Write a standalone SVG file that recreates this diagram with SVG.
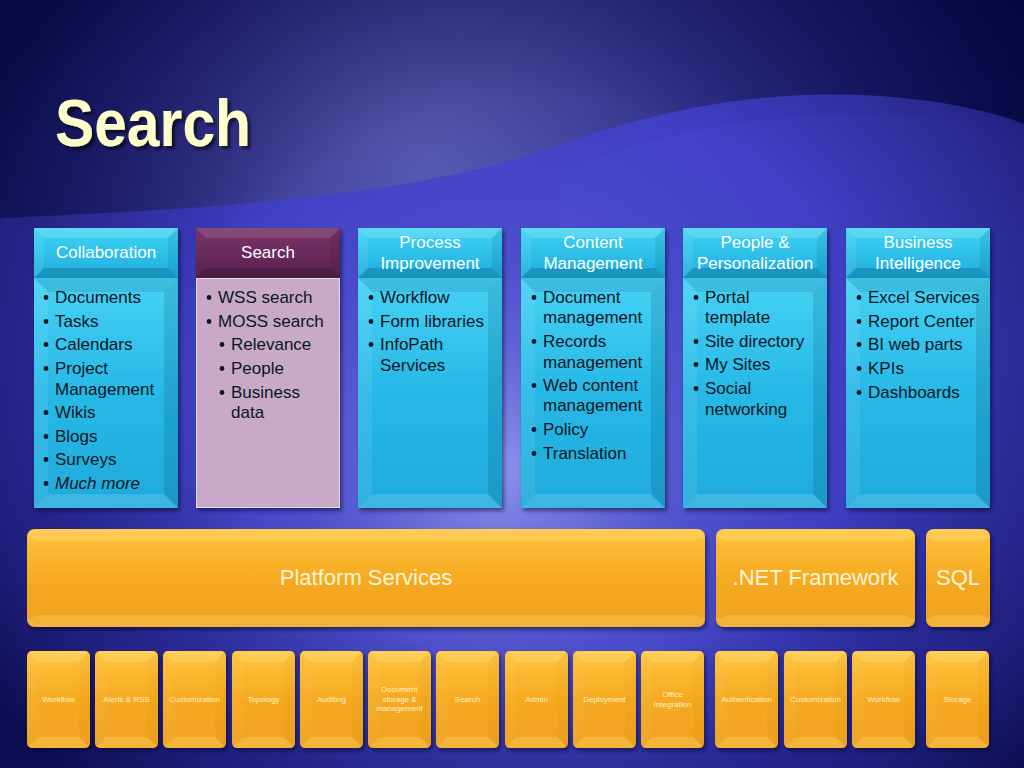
<svg xmlns="http://www.w3.org/2000/svg" xmlns:xlink="http://www.w3.org/1999/xlink" width="1024" height="768" viewBox="0 0 1024 768">
<defs>
<style>
.t{font-family:"Liberation Sans",Arial,sans-serif;}
.hd{font-family:"Liberation Sans",Arial,sans-serif;font-size:17px;fill:#ffffff;text-anchor:middle;}
.bd{font-family:"Liberation Sans",Arial,sans-serif;font-size:17px;fill:#0b1622;}
.bar{font-family:"Liberation Sans",Arial,sans-serif;font-size:22px;fill:#fff6d8;text-anchor:middle;}
.tl{font-family:"Liberation Sans",Arial,sans-serif;font-size:8px;fill:#fff3c8;text-anchor:middle;}
.bul{fill:#0b1622;}
</style>
<radialGradient id="bgTop" gradientUnits="userSpaceOnUse" cx="430" cy="170" r="640">
<stop offset="0" stop-color="#5558a8"/>
<stop offset="0.45" stop-color="#2d2d86"/>
<stop offset="1" stop-color="#08084c"/>
</radialGradient>
<linearGradient id="wave" x1="0" y1="0" x2="0" y2="1">
<stop offset="0" stop-color="#4040c6"/>
<stop offset="1" stop-color="#3434b6"/>
</linearGradient>
<radialGradient id="glow" gradientUnits="userSpaceOnUse" cx="500" cy="470" r="400">
<stop offset="0" stop-color="#9aa2f4" stop-opacity="0.85"/>
<stop offset="0.5" stop-color="#6a70e0" stop-opacity="0.4"/>
<stop offset="1" stop-color="#5055d0" stop-opacity="0"/>
</radialGradient>
<radialGradient id="vig" gradientUnits="userSpaceOnUse" cx="540" cy="380" r="660" gradientTransform="translate(540 380) scale(1 0.85) translate(-540 -380)">
<stop offset="0.5" stop-color="#06063e" stop-opacity="0"/>
<stop offset="0.85" stop-color="#06063e" stop-opacity="0.5"/>
<stop offset="1" stop-color="#04043a" stop-opacity="0.8"/>
</radialGradient>
<linearGradient id="gCyanHead" x1="0" y1="0" x2="0" y2="1">
<stop offset="0" stop-color="#3ed5f5"/>
<stop offset="1" stop-color="#20acdc"/>
</linearGradient>
<linearGradient id="gCyanBody" x1="0" y1="0" x2="0" y2="1">
<stop offset="0" stop-color="#46d2f5"/>
<stop offset="0.5" stop-color="#27b8e6"/>
<stop offset="1" stop-color="#1eaadc"/>
</linearGradient>
<linearGradient id="gPurpHead" x1="0" y1="0" x2="0" y2="1">
<stop offset="0" stop-color="#7a3568"/>
<stop offset="1" stop-color="#5a2150"/>
</linearGradient>
<linearGradient id="gOr" x1="0" y1="0" x2="0" y2="1">
<stop offset="0" stop-color="#ffc440"/>
<stop offset="0.5" stop-color="#f6aa20"/>
<stop offset="1" stop-color="#eea222"/>
</linearGradient>
<filter id="sh" x="-10%" y="-10%" width="125%" height="125%">
<feDropShadow dx="2" dy="3" stdDeviation="2" flood-color="#000022" flood-opacity="0.5"/>
</filter>
<filter id="tsh" x="-10%" y="-10%" width="130%" height="130%">
<feDropShadow dx="3" dy="3" stdDeviation="1.5" flood-color="#000000" flood-opacity="0.6"/>
</filter>
<clipPath id="tileClip"><rect x="0" y="0" width="63" height="97" rx="5"/></clipPath>
<g id="cyanHead">
<rect x="0" y="0" width="144" height="50" fill="url(#gCyanHead)"/>
<polygon points="0,0 144,0 134,10 10,10" fill="#ffffff" fill-opacity="0.16"/>
<polygon points="0,0 10,10 10,40 0,50" fill="#ffffff" fill-opacity="0.08"/>
<polygon points="144,0 144,50 134,40 134,10" fill="#003050" fill-opacity="0.1"/>
<polygon points="0,50 144,50 134,40 10,40" fill="#003050" fill-opacity="0.22"/>
</g>
<g id="cyanBody">
<rect x="0" y="0" width="144" height="230" fill="url(#gCyanBody)"/>
<polygon points="0,0 144,0 130,14 14,14" fill="#003050" fill-opacity="0.12"/>
<polygon points="0,0 14,14 14,216 0,230" fill="#ffffff" fill-opacity="0.08"/>
<polygon points="144,0 144,230 130,216 130,14" fill="#003050" fill-opacity="0.14"/>
<polygon points="0,230 144,230 130,216 14,216" fill="#ffffff" fill-opacity="0.14"/>
</g>
<g id="tile">
<g clip-path="url(#tileClip)">
<rect x="0" y="0" width="63" height="97" fill="url(#gOr)"/>
<polygon points="0,0 63,0 52,11 11,11" fill="#fff3a0" fill-opacity="0.25"/>
<polygon points="0,0 11,11 11,86 0,97" fill="#ffffff" fill-opacity="0.04"/>
<polygon points="63,0 63,97 52,86 52,11" fill="#803000" fill-opacity="0.03"/>
<polygon points="0,97 63,97 52,86 11,86" fill="#ffe070" fill-opacity="0.3"/>
</g>
</g>
</defs>

<g id="background">
<rect x="0" y="0" width="1024" height="768" fill="url(#bgTop)"/>
<path d="M0,218 C230,208 420,195 560,145 C680,102 780,90 880,96 C950,101 1000,114 1024,124 L1024,768 L0,768 Z" fill="url(#wave)"/>
<path d="M560,172 C680,124 800,110 900,115 C960,119 1000,132 1024,142 L1024,768 L560,768 Z" fill="#6a70ff" fill-opacity="0.06"/>
<rect x="0" y="0" width="1024" height="768" fill="url(#glow)"/>
<rect x="0" y="0" width="1024" height="768" fill="url(#vig)"/>
</g>

<g id="title">
<text x="55" y="146" class="t" font-size="66" font-weight="bold" fill="#ffffcc" textLength="196" lengthAdjust="spacingAndGlyphs" filter="url(#tsh)">Search</text>
</g>

<g id="connectors"></g>

<g id="col-collaboration">
<g filter="url(#sh)"><use href="#cyanHead" x="34" y="228"/><use href="#cyanBody" x="34" y="278"/></g>
<text class="hd" x="106" y="258">Collaboration</text>
<circle class="bul" cx="46" cy="297.5" r="2.4"/><text class="bd" x="55" y="303">Documents</text>
<circle class="bul" cx="46" cy="321.5" r="2.4"/><text class="bd" x="55" y="327">Tasks</text>
<circle class="bul" cx="46" cy="344.5" r="2.4"/><text class="bd" x="55" y="350">Calendars</text>
<circle class="bul" cx="46" cy="368.5" r="2.4"/><text class="bd" x="55" y="374">Project</text>
<text class="bd" x="55" y="395">Management</text>
<circle class="bul" cx="46" cy="412.5" r="2.4"/><text class="bd" x="55" y="418">Wikis</text>
<circle class="bul" cx="46" cy="436.5" r="2.4"/><text class="bd" x="55" y="442">Blogs</text>
<circle class="bul" cx="46" cy="459.5" r="2.4"/><text class="bd" x="55" y="465">Surveys</text>
<circle class="bul" cx="46" cy="483.5" r="2.4"/><text class="bd" x="55" y="489" font-style="italic">Much more</text>
</g>

<g id="col-search">
<g filter="url(#sh)">
<rect x="196" y="228" width="144" height="50" fill="url(#gPurpHead)"/>
<polygon points="196,228 340,228 330,238 206,238" fill="#ffffff" fill-opacity="0.1"/>
<polygon points="196,278 340,278 330,268 206,268" fill="#000000" fill-opacity="0.15"/>
<polygon points="340,228 340,278 330,268 330,238" fill="#000000" fill-opacity="0.08"/>
<rect x="196.5" y="278.5" width="143" height="229" fill="#c8a9c8" stroke="#e6d6e6" stroke-width="1"/>
</g>
<text class="hd" x="268" y="258">Search</text>
<circle class="bul" cx="209" cy="297.5" r="2.4"/><text class="bd" x="218" y="303">WSS search</text>
<circle class="bul" cx="209" cy="321.5" r="2.4"/><text class="bd" x="218" y="327">MOSS search</text>
<circle class="bul" cx="222" cy="344.5" r="2.4"/><text class="bd" x="231" y="350">Relevance</text>
<circle class="bul" cx="222" cy="368.5" r="2.4"/><text class="bd" x="231" y="374">People</text>
<circle class="bul" cx="222" cy="392.5" r="2.4"/><text class="bd" x="231" y="398">Business</text>
<text class="bd" x="231" y="418">data</text>
</g>

<g id="col-process">
<g filter="url(#sh)"><use href="#cyanHead" x="358" y="228"/><use href="#cyanBody" x="358" y="278"/></g>
<text class="hd" x="430" y="248">Process</text>
<text class="hd" x="430" y="269">Improvement</text>
<circle class="bul" cx="371" cy="297.5" r="2.4"/><text class="bd" x="380" y="303">Workflow</text>
<circle class="bul" cx="371" cy="321.5" r="2.4"/><text class="bd" x="380" y="327">Form libraries</text>
<circle class="bul" cx="371" cy="344.5" r="2.4"/><text class="bd" x="380" y="350">InfoPath</text>
<text class="bd" x="380" y="371">Services</text>
</g>

<g id="col-content">
<g filter="url(#sh)"><use href="#cyanHead" x="521" y="228"/><use href="#cyanBody" x="521" y="278"/></g>
<text class="hd" x="593" y="248">Content</text>
<text class="hd" x="593" y="269">Management</text>
<circle class="bul" cx="534" cy="297.5" r="2.4"/><text class="bd" x="543" y="303">Document</text>
<text class="bd" x="543" y="323">management</text>
<circle class="bul" cx="534" cy="341.5" r="2.4"/><text class="bd" x="543" y="347">Records</text>
<text class="bd" x="543" y="368">management</text>
<circle class="bul" cx="534" cy="385.5" r="2.4"/><text class="bd" x="543" y="391">Web content</text>
<text class="bd" x="543" y="411">management</text>
<circle class="bul" cx="534" cy="429.5" r="2.4"/><text class="bd" x="543" y="435">Policy</text>
<circle class="bul" cx="534" cy="453.5" r="2.4"/><text class="bd" x="543" y="459">Translation</text>
</g>

<g id="col-people">
<g filter="url(#sh)"><use href="#cyanHead" x="683" y="228"/><use href="#cyanBody" x="683" y="278"/></g>
<text class="hd" x="755" y="248">People &amp;</text>
<text class="hd" x="755" y="269">Personalization</text>
<circle class="bul" cx="696" cy="297.5" r="2.4"/><text class="bd" x="705" y="303">Portal</text>
<text class="bd" x="705" y="323">template</text>
<circle class="bul" cx="696" cy="341.5" r="2.4"/><text class="bd" x="705" y="347">Site directory</text>
<circle class="bul" cx="696" cy="364.5" r="2.4"/><text class="bd" x="705" y="370">My Sites</text>
<circle class="bul" cx="696" cy="388.5" r="2.4"/><text class="bd" x="705" y="394">Social</text>
<text class="bd" x="705" y="415">networking</text>
</g>

<g id="col-bi">
<g filter="url(#sh)"><use href="#cyanHead" x="846" y="228"/><use href="#cyanBody" x="846" y="278"/></g>
<text class="hd" x="918" y="248">Business</text>
<text class="hd" x="918" y="269">Intelligence</text>
<circle class="bul" cx="859" cy="297.5" r="2.4"/><text class="bd" x="868" y="303">Excel Services</text>
<circle class="bul" cx="859" cy="321.5" r="2.4"/><text class="bd" x="868" y="327">Report Center</text>
<circle class="bul" cx="859" cy="344.5" r="2.4"/><text class="bd" x="868" y="350">BI web parts</text>
<circle class="bul" cx="859" cy="368.5" r="2.4"/><text class="bd" x="868" y="374">KPIs</text>
<circle class="bul" cx="859" cy="392.5" r="2.4"/><text class="bd" x="868" y="398">Dashboards</text>
</g>

<g id="bar-platform">
<g filter="url(#sh)">
<rect x="27" y="529" width="678" height="98" rx="8" fill="url(#gOr)"/>
<path d="M35,529 L697,529 Q705,529 705,537 L693,541 L39,541 L27,537 Q27,529 35,529 Z" fill="#fff3a0" fill-opacity="0.22"/>
<path d="M27,619 L39,615 L693,615 L705,619 Q705,627 697,627 L35,627 Q27,627 27,619 Z" fill="#ffe070" fill-opacity="0.28"/>
</g>
<text class="bar" x="366" y="585">Platform Services</text>
</g>

<g id="bar-net">
<g filter="url(#sh)">
<rect x="716" y="529" width="199" height="98" rx="8" fill="url(#gOr)"/>
<path d="M724,529 L907,529 Q915,529 915,537 L903,541 L728,541 L716,537 Q716,529 724,529 Z" fill="#fff3a0" fill-opacity="0.22"/>
<path d="M716,619 L728,615 L903,615 L915,619 Q915,627 907,627 L724,627 Q716,627 716,619 Z" fill="#ffe070" fill-opacity="0.28"/>
</g>
<text class="bar" x="815.5" y="585">.NET Framework</text>
</g>

<g id="bar-sql">
<g filter="url(#sh)">
<rect x="926" y="529" width="64" height="98" rx="8" fill="url(#gOr)"/>
<path d="M934,529 L982,529 Q990,529 990,537 L980,541 L936,541 L926,537 Q926,529 934,529 Z" fill="#fff3a0" fill-opacity="0.22"/>
<path d="M926,619 L936,615 L980,615 L990,619 Q990,627 982,627 L934,627 Q926,627 926,619 Z" fill="#ffe070" fill-opacity="0.28"/>
</g>
<text class="bar" x="958" y="585">SQL</text>
</g>

<g id="tile-workflow"><use href="#tile" x="27" y="651" filter="url(#sh)"/><text class="tl" x="58.5" y="702">Workflow</text></g>
<g id="tile-alerts"><use href="#tile" x="95" y="651" filter="url(#sh)"/><text class="tl" x="126.5" y="702">Alerts &amp; RSS</text></g>
<g id="tile-customization"><use href="#tile" x="163" y="651" filter="url(#sh)"/><text class="tl" x="194.5" y="702">Customization</text></g>
<g id="tile-topology"><use href="#tile" x="232" y="651" filter="url(#sh)"/><text class="tl" x="263.5" y="702">Topology</text></g>
<g id="tile-auditing"><use href="#tile" x="300" y="651" filter="url(#sh)"/><text class="tl" x="331.5" y="702">Auditing</text></g>
<g id="tile-docstorage"><use href="#tile" x="368" y="651" filter="url(#sh)"/><text class="tl" x="399.5" y="692">Document</text><text class="tl" x="399.5" y="701.5">storage  &amp;</text><text class="tl" x="399.5" y="711">management</text></g>
<g id="tile-search"><use href="#tile" x="436" y="651" filter="url(#sh)"/><text class="tl" x="467.5" y="702">Search</text></g>
<g id="tile-admin"><use href="#tile" x="505" y="651" filter="url(#sh)"/><text class="tl" x="536.5" y="702">Admin</text></g>
<g id="tile-deployment"><use href="#tile" x="573" y="651" filter="url(#sh)"/><text class="tl" x="604.5" y="702">Deployment</text></g>
<g id="tile-office"><use href="#tile" x="641" y="651" filter="url(#sh)"/><text class="tl" x="672.5" y="697">Office</text><text class="tl" x="672.5" y="707">Integration</text></g>
<g id="tile-authentication"><use href="#tile" x="715" y="651" filter="url(#sh)"/><text class="tl" x="746.5" y="702">Authentication</text></g>
<g id="tile-customization2"><use href="#tile" x="784" y="651" filter="url(#sh)"/><text class="tl" x="815.5" y="702">Customization</text></g>
<g id="tile-workflow2"><use href="#tile" x="852" y="651" filter="url(#sh)"/><text class="tl" x="883.5" y="702">Workflow</text></g>
<g id="tile-storage"><use href="#tile" x="926" y="651" filter="url(#sh)"/><text class="tl" x="957.5" y="702">Storage</text></g>
</svg>
